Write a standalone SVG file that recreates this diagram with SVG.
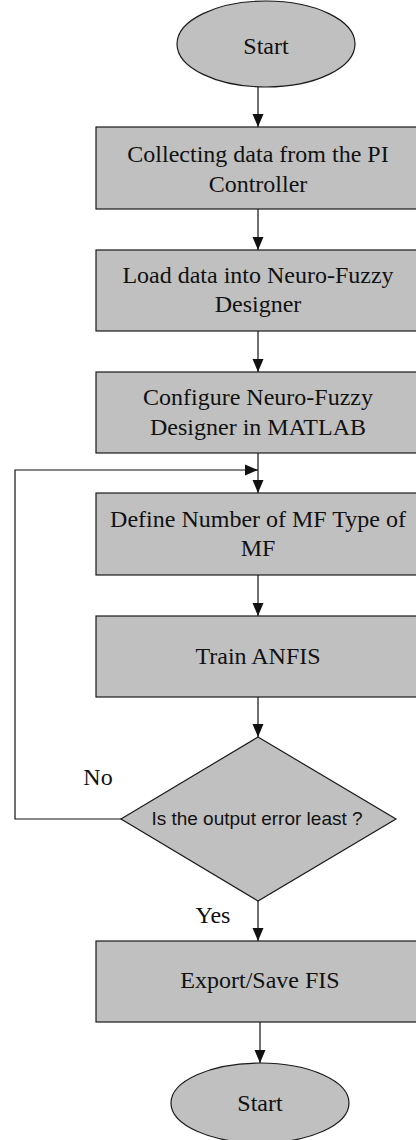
<svg xmlns="http://www.w3.org/2000/svg" width="416" height="1140" viewBox="0 0 416 1140">
<style>
.shape{fill:#c0c0c0;stroke:#1a1a1a;stroke-width:1.2}
.t{font-family:"Liberation Serif","Times New Roman",serif;font-size:24px;fill:#111;text-anchor:middle}
.s{font-family:"Liberation Sans",Arial,sans-serif;font-size:19px;fill:#111;text-anchor:middle}
.c{fill:none;stroke:#111;stroke-width:1.2}
</style>
<defs>
<marker id="ah" markerUnits="userSpaceOnUse" markerWidth="13" markerHeight="12" refX="13" refY="6" orient="auto">
<path d="M0,0.5 L13,6 L0,11.5 z" fill="#111"/>
</marker>
</defs>
<rect width="416" height="1140" fill="#fff"/>
<g id="connectors">
<line class="c" x1="258" y1="87" x2="258" y2="127" marker-end="url(#ah)"/>
<line class="c" x1="258" y1="209" x2="258" y2="250" marker-end="url(#ah)"/>
<line class="c" x1="258" y1="331" x2="258" y2="372" marker-end="url(#ah)"/>
<line class="c" x1="258" y1="453" x2="258" y2="493" marker-end="url(#ah)"/>
<line class="c" x1="258" y1="575" x2="258" y2="616" marker-end="url(#ah)"/>
<line class="c" x1="258" y1="697" x2="258" y2="737" marker-end="url(#ah)"/>
<polyline class="c" points="121,819 15,819 15,470 258,470" marker-end="url(#ah)"/>
<line class="c" x1="258" y1="901" x2="258" y2="941" marker-end="url(#ah)"/>
<line class="c" x1="260" y1="1022" x2="260" y2="1063" marker-end="url(#ah)"/>
<text class="t" x="98" y="785">No</text>
<text class="t" x="213" y="923">Yes</text>
</g>
<g id="start">
<ellipse class="shape" cx="266" cy="44" rx="89" ry="43"/>
<text class="t" x="266" y="54">Start</text>
</g>
<g id="collect">
<rect class="shape" x="96" y="127" width="324" height="82"/>
<text class="t" x="258" y="162">Collecting data from the PI</text>
<text class="t" x="258" y="192">Controller</text>
</g>
<g id="load">
<rect class="shape" x="96" y="250" width="324" height="81"/>
<text class="t" x="258" y="283">Load data into Neuro-Fuzzy</text>
<text class="t" x="258" y="312">Designer</text>
</g>
<g id="configure">
<rect class="shape" x="96" y="372" width="324" height="81"/>
<text class="t" x="258" y="405">Configure Neuro-Fuzzy</text>
<text class="t" x="258" y="435">Designer in MATLAB</text>
</g>
<g id="define">
<rect class="shape" x="96" y="493" width="324" height="82"/>
<text class="t" x="258" y="527">Define Number of MF Type of</text>
<text class="t" x="258" y="556">MF</text>
</g>
<g id="train">
<rect class="shape" x="96" y="616" width="324" height="81"/>
<text class="t" x="258" y="664">Train ANFIS</text>
</g>
<g id="decision">
<polygon class="shape" points="258,737 396,819 258,901 121,819"/>
<text class="s" x="257" y="825">Is the output error least ?</text>
</g>
<g id="export">
<rect class="shape" x="96" y="941" width="324" height="81"/>
<text class="t" x="260" y="988">Export/Save FIS</text>
</g>
<g id="end">
<ellipse class="shape" cx="260" cy="1103" rx="89" ry="40"/>
<text class="t" x="260" y="1111">Start</text>
</g>
</svg>
